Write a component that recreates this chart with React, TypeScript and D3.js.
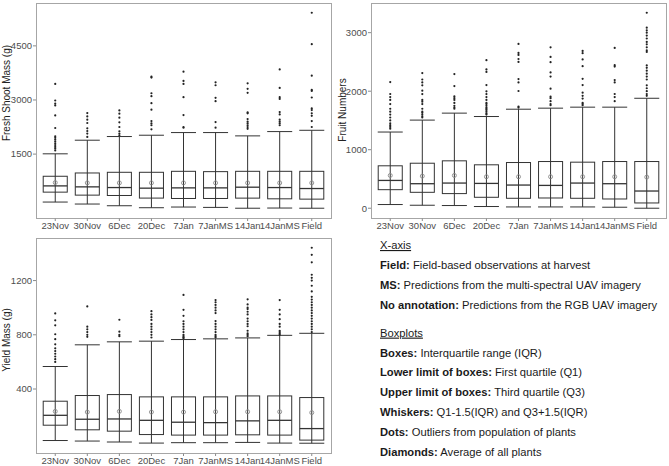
import React from "react";
import * as d3 from "d3";

const categories = ["23Nov", "30Nov", "6Dec", "20Dec", "7Jan", "7JanMS", "14Jan", "14JanMS", "Field"];

// Fresh shoot mass (g)
const shootLower = [171, 116, 69, 14, 33, 23, 0, 5, 0];
const shootQ1 = [446, 363, 353, 281, 270, 270, 280, 261, 252];
const shootMedian = [619, 592, 573, 556, 564, 564, 583, 573, 546];
const shootQ3 = [886, 977, 996, 996, 1023, 1014, 1023, 1023, 1023];
const shootUpper = [1508, 1885, 1987, 2023, 2097, 2097, 2005, 2124, 2160];
const shootMean = [710, 702, 702, 702, 702, 702, 702, 702, 702];
const shootOutliers = [
  [3446, 2986, 2900, 2850, 2573, 2224, 1995, 1950, 1900, 1850, 1800, 1750, 1700, 1650, 1600],
  [2637, 2545, 2454, 2362, 2215, 2141, 2068, 1977],
  [2711, 2620, 2510, 2381, 2251, 2133, 2069, 2023],
  [3647, 3620, 3187, 3105, 2912, 2730, 2416, 2350, 2300, 2188],
  [3784, 3528, 3445, 3077, 2582, 2251, 2230],
  [3490, 3408, 3060, 2967, 2389, 2233],
  [3463, 3308, 3198, 2656, 2630, 2472, 2400, 2350, 2300, 2250, 2200],
  [3848, 3335, 3077, 3030, 2664, 2600, 2454, 2400, 2350, 2300],
  [5417, 4546, 3674, 3280, 3250, 3069, 2766, 2720, 2630, 2560, 2416, 2251],
];
const shootTicks = [1500, 3000, 4500];

// Fruit numbers
const fruitLower = [63, 51, 46, 29, 22, 22, 22, 17, 0];
const fruitQ1 = [317, 272, 250, 187, 170, 175, 170, 158, 90];
const fruitMedian = [475, 419, 430, 424, 396, 390, 430, 419, 294];
const fruitQ3 = [725, 769, 810, 742, 781, 798, 787, 798, 798];
const fruitUpper = [1302, 1506, 1625, 1567, 1692, 1710, 1727, 1727, 1879];
const fruitMean = [560, 549, 560, 538, 538, 538, 538, 538, 532];
const fruitOutliers = [
  [2156, 1952, 1900, 1850, 1780, 1700, 1650, 1600, 1550, 1500, 1450, 1420, 1390, 1360],
  [2309, 2200, 2150, 2100, 2009, 1950, 1851, 1820, 1780, 1700, 1650, 1630, 1600, 1570, 1550],
  [2292, 2088, 1910, 1880, 1850, 1800, 1750, 1720, 1700],
  [2530, 2372, 2330, 2105, 1998, 1950, 1900, 1850, 1800, 1780, 1750, 1720, 1700, 1680, 1650, 1620, 1600],
  [2807, 2654, 2620, 2550, 2500, 2207, 2150, 2003, 1737, 1720],
  [2750, 2586, 2496, 2321, 2250, 2043, 1907, 1880, 1830, 1780, 1760],
  [2688, 2650, 2542, 2428, 2212, 2105, 1975, 1920, 1873, 1800, 1780, 1760],
  [2739, 2445, 2420, 2190, 2150, 1952, 1900, 1830],
  [3340, 3085, 3040, 3000, 2950, 2900, 2841, 2800, 2750, 2700, 2671, 2440, 2400, 2350, 2300, 2250, 2200, 2100, 2050, 2000, 1950, 1920],
];
const fruitTicks = [0, 1000, 2000, 3000];

// Yield mass (g)
const yieldLower = [20, 16, 9, 1, 4, 4, 6, 1, 0];
const yieldQ1 = [133, 99, 89, 64, 60, 60, 62, 60, 23];
const yieldMedian = [206, 177, 179, 169, 155, 152, 165, 169, 108];
const yieldQ3 = [310, 352, 359, 342, 342, 342, 349, 349, 337];
const yieldUpper = [566, 726, 748, 753, 765, 770, 777, 796, 811];
const yieldMean = [235, 230, 235, 230, 230, 232, 232, 232, 226];
const yieldOutliers = [
  [958, 907, 870, 804, 768, 730, 700, 680, 660, 640, 620, 600],
  [1009, 860, 840, 820, 800, 785],
  [911, 823, 800, 790],
  [974, 950, 930, 910, 880, 860, 840, 820, 800, 780],
  [1094, 984, 940, 900, 880, 860, 840, 820, 800, 790, 780, 775],
  [1056, 1040, 1020, 1000, 980, 960, 901, 880, 860, 840, 820, 800, 790, 780],
  [1062, 1024, 1000, 990, 970, 950, 920, 900, 880, 863, 830, 810, 800, 790],
  [1056, 984, 950, 915, 880, 860, 830, 820, 810, 800],
  [1442, 1390, 1335, 1243, 1220, 1200, 1162, 1120, 1080, 1060, 1040, 1020, 1000, 980, 960, 940, 920, 900, 880, 860, 840, 820],
];
const yieldTicks = [400, 800, 1200];

const legendLines: { bold?: string; text: string; heading?: boolean; gap?: number }[] = [
  { text: "X-axis", heading: true },
  { bold: "Field:", text: " Field-based observations at harvest" },
  { bold: "MS:", text: " Predictions from the multi-spectral UAV imagery" },
  { bold: "No annotation:", text: " Predictions from the RGB UAV imagery" },
  { text: "Boxplots", heading: true, gap: 8 },
  { bold: "Boxes:", text: " Interquartile range (IQR)" },
  { bold: "Lower limit of boxes:", text: " First quartile (Q1)" },
  { bold: "Upper limit of boxes:", text: " Third quartile (Q3)" },
  { bold: "Whiskers:", text: " Q1-1.5(IQR) and Q3+1.5(IQR)" },
  { bold: "Dots:", text: " Outliers from population of plants" },
  { bold: "Diamonds:", text: " Average of all plants" },
];

const FONT = "'Liberation Sans', Arial, sans-serif";
const LINE = "#333333";

type PanelProps = {
  x0: number; x1: number; y0: number; y1: number;
  lower: number[]; q1: number[]; median: number[]; q3: number[]; upper: number[];
  mean: number[]; outliers: number[][]; ticks: number[];
  title: string; titleX: number; titleY: number;
};

function Panel(p: PanelProps) {
  const all = [...p.lower, ...p.upper, ...p.outliers.flat()];
  const mn = d3.min(all) as number;
  const mx = d3.max(all) as number;
  const pad = (mx - mn) * 0.05;
  const y = d3.scaleLinear().domain([mn - pad, mx + pad]).range([p.y1, p.y0]);
  const x = d3.scalePoint<string>().domain(categories).range([p.x0, p.x1]).padding(0.6);
  const step = x.step();
  const bw = step * 0.75;
  const cw = step * 0.78;
  return (
    <g>
      <rect x={p.x0 + 0.5} y={p.y0 + 0.5} width={p.x1 - p.x0} height={p.y1 - p.y0} fill="white" stroke="#a6a6a6" strokeWidth={1} />
      {p.ticks.map((t) => (
        <g key={t}>
          <line x1={p.x0 - 3} x2={p.x0} y1={y(t)} y2={y(t)} stroke="#8a8a8a" />
          <text x={p.x0 - 4} y={y(t)} dy="0.35em" textAnchor="end" fontSize={9.5} fill="#4d4d4d" fontFamily={FONT}>{t}</text>
        </g>
      ))}
      {categories.map((c, i) => {
        const cx = x(c) as number;
        return (
          <g key={c}>
            <line x1={cx} x2={cx} y1={p.y1 + 0.5} y2={p.y1 + 3} stroke="#8a8a8a" />
            <text x={cx} y={p.y1 + 11} textAnchor="middle" fontSize={9.5} fill="#4d4d4d" fontFamily={FONT}>{c}</text>
            <line x1={cx} x2={cx} y1={y(p.lower[i])} y2={y(p.upper[i])} stroke={LINE} strokeWidth={1} />
            <rect x={cx - bw / 2} y={y(p.q3[i])} width={bw} height={y(p.q1[i]) - y(p.q3[i])} fill="none" stroke={LINE} strokeWidth={1} />
            <line x1={cx - bw / 2} x2={cx + bw / 2} y1={y(p.median[i])} y2={y(p.median[i])} stroke={LINE} strokeWidth={1.3} />
            <line x1={cx - cw / 2} x2={cx + cw / 2} y1={y(p.upper[i])} y2={y(p.upper[i])} stroke={LINE} strokeWidth={1} />
            <line x1={cx - cw / 2} x2={cx + cw / 2} y1={y(p.lower[i])} y2={y(p.lower[i])} stroke={LINE} strokeWidth={1} />
            {p.outliers[i].map((v, k) => (
              <circle key={k} cx={cx} cy={y(v)} r={1.1} fill="#222" />
            ))}
            <circle cx={cx} cy={y(p.mean[i])} r={2} fill="none" stroke="#8a8a8a" strokeWidth={0.9} />
          </g>
        );
      })}
      <text transform={`translate(${p.titleX},${p.titleY}) rotate(-90)`} textAnchor="middle" dy="0.35em" fontSize={10} fill="#222" fontFamily={FONT}>{p.title}</text>
    </g>
  );
}

export default function App() {
  let yy = 249;
  return (
    <svg width={669} height={466} style={{ position: "absolute", left: 0, top: 0, background: "white" }}>
      <rect width={669} height={466} fill="white" />
      <Panel x0={36} x1={331} y0={3} y1={218} lower={shootLower} q1={shootQ1} median={shootMedian} q3={shootQ3}
        upper={shootUpper} mean={shootMean} outliers={shootOutliers} ticks={shootTicks}
        title="Fresh Shoot Mass (g)" titleX={6} titleY={93} />
      <Panel x0={371} x1={666} y0={3} y1={218} lower={fruitLower} q1={fruitQ1} median={fruitMedian} q3={fruitQ3}
        upper={fruitUpper} mean={fruitMean} outliers={fruitOutliers} ticks={fruitTicks}
        title="Fruit Numbers" titleX={342} titleY={110} />
      <Panel x0={36} x1={331} y0={238} y1={453} lower={yieldLower} q1={yieldQ1} median={yieldMedian} q3={yieldQ3}
        upper={yieldUpper} mean={yieldMean} outliers={yieldOutliers} ticks={yieldTicks}
        title="Yield Mass (g)" titleX={6} titleY={340} />
      <g fontFamily={FONT} fontSize={11.2} fill="#1a1a1a">
        {legendLines.map((l, i) => {
          if (i > 0) yy += 19.9 + (l.gap || 0);
          return (
            <text key={i} x={380} y={yy} textDecoration={l.heading ? "underline" : undefined}>
              {l.bold ? <tspan fontWeight="bold">{l.bold}</tspan> : null}
              <tspan>{l.text}</tspan>
            </text>
          );
        })}
      </g>
    </svg>
  );
}
